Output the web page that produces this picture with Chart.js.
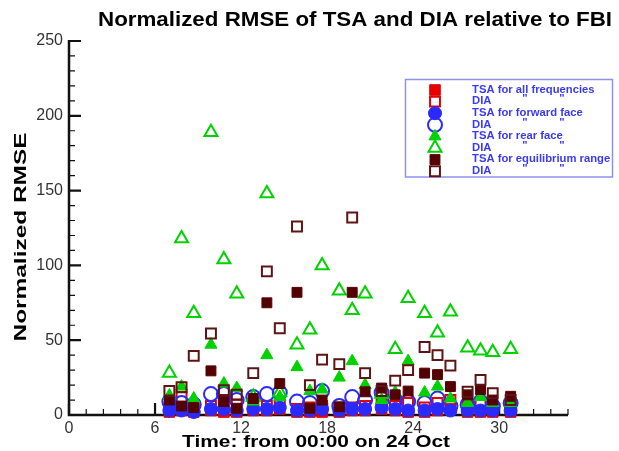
<!DOCTYPE html>
<html lang="en">
<head>
    <meta charset="UTF-8">
    <title>Normalized RMSE of TSA and DIA relative to FBI</title>
    <script src="https://cdn.jsdelivr.net/npm/chart.js"></script>
</head>
<body style="margin: 0; background: #fff;">
    <div style="width: 619px; height: 451px;">
        <canvas id="myChart"></canvas>
    </div>
    <script>
        // time in hours from 00:00 on 24 Oct
        const hours = [7.0, 7.85, 8.7, 9.9, 10.8, 11.7, 12.85, 13.8, 14.7, 15.9, 16.8, 17.65, 18.85, 19.75, 20.65, 21.8, 22.75, 23.65, 24.8, 25.7, 26.6, 27.8, 28.7, 29.55, 30.8];

        // normalized RMSE
        const tsaAll     = [2, 3, 2, 3, 2, 2, 3, 3, 4, 2, 2, 2, 2, 3, 3, 4, 3, 2, 2, 3, 4, 2, 2, 2, 2];
        const diaAll     = [5, 12, 4, 6, 10, 7, 5, 6, 7, 4, 5, 6, 4, 5, 6, 7, 6, 8, 5, 8, 10, 6, 7, 5, 5];
        const tsaForward = [3, 3, 2, 4, 4, 3, 4, 4, 5, 3, 3, 4, 3, 4, 4, 5, 4, 3, 3, 4, 3, 3, 3, 3, 3];
        const diaForward = [9, 8, 7, 14, 14, 10, 12, 14, 15, 9, 8, 16, 6, 12, 10, 15, 10, 9, 8, 11, 6, 7, 9, 6, 8];
        const tsaRear    = [13, 19, 11, 47, 21, 18, 9, 40, 12, 32, 16, 17, 25, 36, 20, 10, 15, 36, 15, 19, 11, 8, 12, 8, 8];
        const diaRear    = [28, 118, 68, 189, 104, 81, 12, 148, 15, 47, 57, 100, 83, 70, 81, 14, 44, 78, 68, 55, 69, 45, 43, 42, 44];
        const tsaEq      = [10, 6, 5, 29.5, 9, 4.5, 11, 75, 21, 82, 4.5, 10, 5.5, 82, 15.5, 18, 13.5, 16, 28, 27, 19, 13.5, 17, 10, 12.5];
        const diaEq      = [16, 18.5, 39.5, 54.5, 16.5, 13.5, 28, 96, 58, 126, 20, 37, 34, 132, 28, 16, 23, 30, 45.5, 40, 33, 15.5, 23.5, 14.5, 10];

        const xTicks = [0, 6, 12, 18, 24, 30];
        const yTicks = [0, 50, 100, 150, 200, 250];

        const legendLabels = ['TSA for all frequencies', 'DIA', 'TSA for forward face', 'DIA', 'TSA for rear face', 'DIA', 'TSA for equilibrium range', 'DIA'];

        const red = '#e60000', blue = '#2a2aff', green = '#00d200', brown = '#550000', brownLine = '#5e1414';

        function pts(arr) {
            return hours.map((h, i) => ({ x: h, y: arr[i] }));
        }

        function series(label, arr, style, radius, fill, line, width, order) {
            return {
                label: label,
                data: pts(arr),
                pointStyle: style,
                pointRadius: radius,
                pointHoverRadius: radius,
                pointBackgroundColor: fill,
                pointBorderColor: line,
                pointBorderWidth: width,
                showLine: false,
                clip: false,
                order: order
            };
        }

        const none = 'rgba(0,0,0,0)';
        const datasets = [
            series(legendLabels[0], tsaAll, 'rect', 7.5, red, red, 1, 8),
            series(legendLabels[1], diaAll, 'rect', 7, none, red, 2, 7),
            series(legendLabels[2], tsaForward, 'circle', 6.5, blue, blue, 1, 6),
            series(legendLabels[3], diaForward, 'circle', 7, none, blue, 2, 5),
            series(legendLabels[4], tsaRear, 'triangle', 7, green, green, 1, 4),
            series(legendLabels[5], diaRear, 'triangle', 7.5, none, green, 2, 3),
            series(legendLabels[6], tsaEq, 'rect', 7, brown, brown, 1, 2),
            series(legendLabels[7], diaEq, 'rect', 7, none, brownLine, 2, 1)
        ];

        // text squeezed/stretched to the width seen in the picture
        function fitText(ctx, text, x, y, width, angle) {
            const w = ctx.measureText(text).width;
            ctx.save();
            ctx.translate(x, y);
            ctx.rotate(angle || 0);
            ctx.scale(width / w, 1);
            ctx.fillText(text, 0, 0);
            ctx.restore();
        }

        function drawMarker(ctx, ds, x, y) {
            const r = ds.pointRadius;
            ctx.save();
            ctx.beginPath();
            if (ds.pointStyle === 'rect') {
                const s = r * Math.SQRT1_2;
                ctx.rect(x - s, y - s, 2 * s, 2 * s);
            } else if (ds.pointStyle === 'circle') {
                ctx.arc(x, y, r, 0, Math.PI * 2);
            } else {
                for (let k = 0; k < 3; k++) {
                    const a = k * 2 * Math.PI / 3;
                    ctx.lineTo(x + Math.sin(a) * r, y - Math.cos(a) * r);
                }
                ctx.closePath();
            }
            ctx.fillStyle = ds.pointBackgroundColor;
            ctx.fill();
            ctx.lineWidth = ds.pointBorderWidth;
            ctx.strokeStyle = ds.pointBorderColor;
            ctx.stroke();
            ctx.restore();
        }

        const frame = {
            id: 'frame',
            beforeDatasetsDraw(chart) {
                const ctx = chart.ctx;
                const xs = chart.scales.x, ys = chart.scales.y;
                const x0 = xs.getPixelForValue(0), x1 = xs.getPixelForValue(xs.max);
                const y0 = ys.getPixelForValue(0), y1 = ys.getPixelForValue(250);
                ctx.save();
                ctx.strokeStyle = '#111';
                // minor ticks
                ctx.lineWidth = 1.2;
                ctx.beginPath();
                for (let v = 10; v < 250; v += 10) {
                    if (v % 50 === 0) continue;
                    const y = ys.getPixelForValue(v);
                    ctx.moveTo(x0, y); ctx.lineTo(x0 + 6, y);
                }
                for (let k = 1; k * 1.2 <= xs.max + 0.01; k++) {
                    if (k % 5 === 0) continue;
                    const x = xs.getPixelForValue(k * 1.2);
                    ctx.moveTo(x, y0); ctx.lineTo(x, y0 - 6);
                }
                ctx.stroke();
                // major ticks
                ctx.lineWidth = 2.2;
                ctx.beginPath();
                yTicks.forEach(v => {
                    const y = ys.getPixelForValue(v);
                    ctx.moveTo(x0, y); ctx.lineTo(x0 + 12, y);
                });
                xTicks.forEach(v => {
                    const x = xs.getPixelForValue(v);
                    ctx.moveTo(x, y0); ctx.lineTo(x, y0 - 12);
                });
                ctx.stroke();
                // axis lines
                ctx.lineWidth = 2.5;
                ctx.beginPath();
                ctx.moveTo(x0, y1 - 1);
                ctx.lineTo(x0, y0);
                ctx.lineTo(x1, y0);
                ctx.stroke();
                ctx.restore();
            },
            afterDraw(chart) {
                const ctx = chart.ctx;
                ctx.save();
                ctx.fillStyle = '#000';
                ctx.textAlign = 'center';
                ctx.textBaseline = 'alphabetic';

                ctx.font = 'bold 20px Arial';
                fitText(ctx, 'Normalized RMSE of TSA and DIA relative to FBI', 355, 26, 514);

                ctx.font = 'bold 17px Arial';
                fitText(ctx, 'Time: from 00:00 on 24 Oct', 316, 446.5, 268);

                ctx.textBaseline = 'middle';
                fitText(ctx, 'Normalized RMSE', 21, 237, 209, -Math.PI / 2);

                // legend box
                ctx.strokeStyle = '#9090f0';
                ctx.lineWidth = 1.5;
                ctx.strokeRect(405.5, 79.5, 207, 97.5);

                ctx.font = 'bold 10px Arial';
                ctx.fillStyle = '#3a3af5';
                ctx.textAlign = 'left';
                const sx = 122.6 / ctx.measureText(legendLabels[0]).width;
                datasets.forEach((ds, i) => {
                    const y = 90 + i * 11.6;
                    drawMarker(ctx, ds, 435, y);
                    ctx.save();
                    ctx.translate(472, y);
                    ctx.scale(sx, 1);
                    ctx.fillText(legendLabels[i], 0, 0);
                    if (legendLabels[i] === 'DIA') {
                        ctx.textAlign = 'center';
                        ctx.fillText('"', (525 - 472) / sx, -2);
                        ctx.fillText('"', (562 - 472) / sx, -2);
                    }
                    ctx.restore();
                });
                ctx.restore();
            }
        };

        const ctx = document.getElementById('myChart');

        new Chart(ctx, {
            type: 'scatter',
            data: { datasets: datasets },
            options: {
                responsive: true,
                maintainAspectRatio: false,
                animation: false,
                devicePixelRatio: 1,
                layout: { padding: { top: 41, right: 51, left: 0, bottom: 0 } },
                plugins: {
                    legend: { display: false },
                    title: { display: false },
                    tooltip: { enabled: false }
                },
                scales: {
                    x: {
                        type: 'linear',
                        min: 0,
                        max: 34.8,
                        afterFit: (scale) => { scale.height = 36; },
                        afterBuildTicks: (scale) => { scale.ticks = xTicks.map(v => ({ value: v })); },
                        grid: { display: false, drawTicks: false },
                        border: { display: false },
                        ticks: { font: { family: 'Arial', size: 16 }, color: '#333', padding: 4, maxRotation: 0 }
                    },
                    y: {
                        type: 'linear',
                        min: 0,
                        max: 250,
                        afterFit: (scale) => { scale.width = 69; },
                        afterBuildTicks: (scale) => { scale.ticks = yTicks.map(v => ({ value: v })); },
                        grid: { display: false, drawTicks: false },
                        border: { display: false },
                        ticks: { font: { family: 'Arial', size: 16 }, color: '#333', padding: 6 }
                    }
                }
            },
            plugins: [frame]
        });
    </script>
</body>
</html>
